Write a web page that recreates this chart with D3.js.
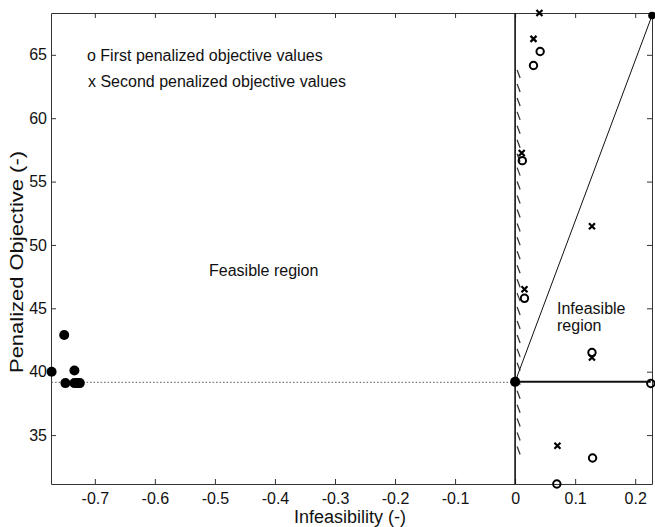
<!DOCTYPE html>
<html>
<head>
<meta charset="utf-8">
<script src="https://cdnjs.cloudflare.com/ajax/libs/d3/7.8.5/d3.min.js"></script>
<style>
  body { margin: 0; background: #fff; }
  text { font-family: "Liberation Sans", Arial, sans-serif; fill: #111; }
  .axis path, .axis line { stroke: #333; }
  .axis text { font-size: 16px; fill: #111; }
</style>
</head>
<body>
<div id="chart"></div>
<script>
// feasible solutions (filled dots)
var feasibleX = [-0.772, -0.751, -0.749, -0.734, -0.734, -0.729, -0.725, 0, 0.228];
var feasibleY = [40.0, 42.9, 39.1, 40.1, 39.1, 39.1, 39.1, 39.2, 68.1];

// first penalized objective values (o)
var firstX = [0.0417, 0.0306, 0.012, 0.0156, 0.128, 0.129, 0.0695, 0.226];
var firstY = [65.26, 64.16, 56.65, 45.79, 41.51, 33.19, 31.14, 39.07];

// second penalized objective values (x)
var secondX = [0.0405, 0.0306, 0.011, 0.0156, 0.128, 0.128, 0.0705];
var secondY = [68.3, 66.26, 57.26, 46.5, 51.48, 41.12, 34.16];

var xTicks = [-0.7, -0.6, -0.5, -0.4, -0.3, -0.2, -0.1, 0, 0.1, 0.2];
var yTicks = [35, 40, 45, 50, 55, 60, 65];

var xLimits = [-0.773, 0.228];
var yLimits = [31.14, 68.3];

var bestY = 39.15;          // best feasible value, dotted line
var hatchTop = 63.8, hatchBottom = 33.7;

var W = 655, H = 527;
var margin = {top: 13, right: 3, bottom: 43, left: 51};
var width = W - margin.left - margin.right,
    height = H - margin.top - margin.bottom;

var svg = d3.select("#chart").append("svg")
    .attr("width", W)
    .attr("height", H);

svg.append("rect").attr("width", W).attr("height", H).attr("fill", "#fff");

var g = svg.append("g")
    .attr("transform", `translate(${margin.left}, ${margin.top})`);

var x = d3.scaleLinear().domain(xLimits).range([0, width]);
var y = d3.scaleLinear().domain(yLimits).range([height, 0]);

// plain hyphen for negatives, like matlab
var fmtX = d => d === 0 ? "0" : d.toFixed(1);

// axes, ticks pointing inward like matlab
g.append("g").attr("class", "axis")
    .attr("transform", `translate(0, ${height})`)
    .call(d3.axisBottom(x).tickValues(xTicks).tickSizeInner(-5).tickSizeOuter(0).tickPadding(9)
        .tickFormat(fmtX));

g.append("g").attr("class", "axis")
    .call(d3.axisLeft(y).tickValues(yTicks).tickSizeInner(-5).tickSizeOuter(0).tickPadding(4));

g.append("g").attr("class", "axis")
    .call(d3.axisTop(x).tickValues(xTicks).tickSizeInner(-5).tickSizeOuter(0).tickFormat(""));

g.append("g").attr("class", "axis")
    .attr("transform", `translate(${width}, 0)`)
    .call(d3.axisRight(y).tickValues(yTicks).tickSizeInner(-5).tickSizeOuter(0).tickFormat(""));

// dotted best feasible line
g.append("line")
    .attr("x1", x(feasibleX[0])).attr("x2", x(0))
    .attr("y1", y(bestY)).attr("y2", y(bestY))
    .attr("stroke", "#777").attr("stroke-width", 1.2)
    .attr("stroke-dasharray", "1.5,2");

// boundary at zero infeasibility
g.append("line")
    .attr("x1", x(0)).attr("x2", x(0))
    .attr("y1", 0).attr("y2", height)
    .attr("stroke", "#111").attr("stroke-width", 1.6);

// hatching along the boundary
g.selectAll(".hatch")
    .data(d3.range(hatchTop, hatchBottom, -1.1))
    .enter().append("line")
    .attr("class", "hatch")
    .attr("x1", x(0) + 2).attr("x2", x(0) + 5)
    .attr("y1", d => y(d)).attr("y2", d => y(d) + 8)
    .attr("stroke", "#333").attr("stroke-width", 1.3);

// penalty lines
var last = feasibleX.length - 1;
g.append("line")
    .attr("x1", x(0)).attr("y1", y(feasibleY[7]))
    .attr("x2", x(feasibleX[last])).attr("y2", y(feasibleY[last]))
    .attr("stroke", "#111").attr("stroke-width", 1);

g.append("line")
    .attr("x1", x(0)).attr("y1", y(feasibleY[7]))
    .attr("x2", x(firstX[7])).attr("y2", y(feasibleY[7]))
    .attr("stroke", "#111").attr("stroke-width", 2);

// filled dots
g.selectAll(".dot")
    .data(feasibleX)
    .enter().append("circle")
    .attr("class", "dot")
    .attr("cx", d => x(d))
    .attr("cy", (d, i) => y(feasibleY[i]))
    .attr("r", (d, i) => i === last ? 3.8 : 5)
    .attr("fill", "#000");

// o markers
g.selectAll(".first")
    .data(firstX)
    .enter().append("circle")
    .attr("class", "first")
    .attr("cx", d => x(d))
    .attr("cy", (d, i) => y(firstY[i]))
    .attr("r", 3.7)
    .attr("fill", "none")
    .attr("stroke", "#000")
    .attr("stroke-width", 2);

// x markers
g.selectAll(".second")
    .data(secondX)
    .enter().append("path")
    .attr("class", "second")
    .attr("transform", (d, i) => `translate(${x(d)}, ${y(secondY[i])})`)
    .attr("d", "M-3,-3L3,3M-3,3L3,-3")
    .attr("stroke", "#000")
    .attr("stroke-width", 2.2);

// legend text
g.append("text").attr("x", 36).attr("y", 48).style("font-size", "16px")
    .text("o First penalized objective values");
g.append("text").attr("x", 37).attr("y", 74).style("font-size", "16px")
    .text("x Second penalized objective values");

// region labels
g.append("text").attr("x", 158).attr("y", 263).style("font-size", "16px")
    .text("Feasible region");
g.append("text").attr("x", 506).attr("y", 301).style("font-size", "16px")
    .text("Infeasible");
g.append("text").attr("x", 506).attr("y", 318).style("font-size", "16px")
    .text("region");

// axis labels
svg.append("text")
    .attr("x", margin.left + x(-0.275)).attr("y", 523)
    .attr("text-anchor", "middle").style("font-size", "18px")
    .text("Infeasibility (-)");

svg.append("text")
    .attr("transform", `translate(23, 262) rotate(-90)`)
    .attr("text-anchor", "middle").style("font-size", "18px")
    .attr("textLength", 222).attr("lengthAdjust", "spacingAndGlyphs")
    .text("Penalized Objective (-)");
</script>
</body>
</html>
